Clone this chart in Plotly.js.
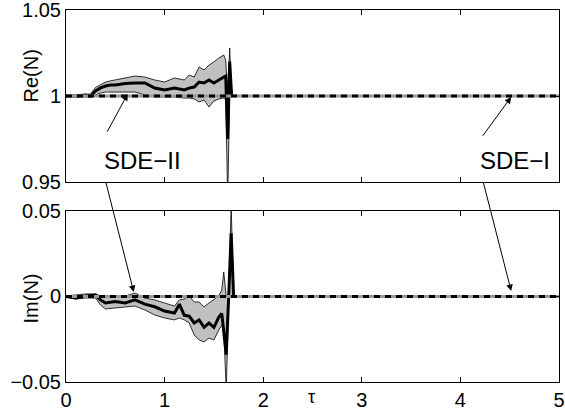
<!DOCTYPE html>
<html>
<head>
<meta charset="utf-8">
<script src="https://cdn.plot.ly/plotly-3.0.1.min.js"></script>
<style>html,body{margin:0;padding:0;background:#fff;}#chart{width:565px;height:414px;}</style>
</head>
<body>
<div id="chart"></div>
<script>
// ---- data ----
var tauRe   = [0,0.1,0.2,0.25,0.3,0.35,0.4,0.45,0.5,0.6,0.7,0.8,0.9,1.0,1.1,1.2,1.25,1.3,1.35,1.4,1.45,1.5,1.55,1.6,1.62,1.64,1.66,1.68];
var reMean  = [1.0,1.0,1.0006,0.9998,1.003,1.0047,1.0058,1.0064,1.0064,1.0073,1.0076,1.0076,1.0046,1.0035,1.0046,1.0035,1.0046,1.0052,1.0081,1.0076,1.0093,1.0076,1.0093,1.011,1.0116,0.975,1.02,1.0];
var reUpper = [1.0,1.0006,1.0012,1.0012,1.005,1.0068,1.0081,1.0088,1.0093,1.0105,1.0116,1.011,1.0093,1.0081,1.0105,1.0093,1.0122,1.011,1.0169,1.0151,1.018,1.0198,1.0221,1.0238,1.0209,1.0,1.0279,1.0];
var reLower = [1.0,0.9994,0.9994,0.9994,1.0006,1.0017,1.0023,1.0023,1.0023,1.0023,1.0023,1.0006,0.9994,0.9994,0.9994,0.9988,0.9988,0.9983,0.9965,0.9977,0.9936,0.9971,0.9983,0.9988,0.9977,0.94,1.0,1.0];

var tauIm   = [0,0.1,0.2,0.3,0.35,0.4,0.5,0.6,0.7,0.8,0.9,1.0,1.1,1.15,1.2,1.25,1.3,1.35,1.4,1.45,1.5,1.55,1.58,1.6,1.625,1.65,1.675,1.7];
var imMean  = [0,-0.0009,0.0003,0.0009,-0.002,-0.0038,-0.003,-0.0038,-0.002,-0.0045,-0.006,-0.0085,-0.0097,-0.0045,-0.011,-0.0115,-0.0155,-0.0137,-0.018,-0.0155,-0.018,-0.012,-0.0100,-0.02,-0.034,0.0,0.037,0];
var imUpper = [0.0003,0.0009,0.0015,0.0015,0.0003,-0.0003,-0.0003,0.0003,0.002,-0.0009,-0.002,-0.0038,-0.0056,-0.002,-0.0015,0.0003,-0.0032,-0.0032,-0.0061,-0.0038,-0.002,0.0003,0.0038,0.0143,0.0,0.0,0.0535,0];
var imLower = [-0.0003,-0.0015,-0.0009,-0.0009,-0.005,-0.0073,-0.0067,-0.0061,-0.0056,-0.0079,-0.0108,-0.0126,-0.0137,-0.0126,-0.0137,-0.0155,-0.0225,-0.0254,-0.0266,-0.0243,-0.0254,-0.0196,-0.0167,-0.0196,-0.0547,-0.002,0.0,0];

var tauI = [0,1,2,3,4,5];
var reI  = [1,1,1,1,1,1];
var imI  = [0,0,0,0,0,0];

var xTicks = [0,1,2,3,4,5];
var reTicks = [0.95,1,1.05];
var reTickText = ['0.95','1','1.05'];
var imTicks = [-0.05,0,0.05];
var imTickText = ['\u22120.05','0','0.05'];

// ---- traces ----
function panel(xa, ya, tau, lo, up, mean, refY) {
  return [
    {x: tauI, y: refY, xaxis: xa, yaxis: ya, mode: 'lines', line: {color: '#000', width: 1.2}, hoverinfo: 'skip'},
    {x: tau, y: lo, xaxis: xa, yaxis: ya, mode: 'lines', line: {color: '#000', width: 0.8}, hoverinfo: 'skip'},
    {x: tau, y: up, xaxis: xa, yaxis: ya, mode: 'lines', fill: 'tonexty', fillcolor: '#c0c0c0', line: {color: '#000', width: 0.8}, hoverinfo: 'skip'},
    {x: tau, y: mean, xaxis: xa, yaxis: ya, mode: 'lines', line: {color: '#000', width: 3}, name: 'SDE-II'},
    {x: tauI, y: refY, xaxis: xa, yaxis: ya, mode: 'lines', line: {color: '#9a9a9a', width: 3}, hoverinfo: 'skip'},
    {x: tauI, y: refY, xaxis: xa, yaxis: ya, mode: 'lines', line: {color: '#000', width: 3, dash: '6px,5px'}, name: 'SDE-I'}
  ];
}
var data = panel('x', 'y', tauRe, reLower, reUpper, reMean, reI)
  .concat(panel('x2', 'y2', tauIm, imLower, imUpper, imMean, imI));

var font = {family: 'Liberation Sans, Arial, sans-serif', size: 20, color: '#000'};
var axBase = {showline: true, linecolor: '#000', linewidth: 1, mirror: 'allticks', ticks: 'inside',
  ticklen: 5, tickcolor: '#000', showgrid: false, zeroline: false, tickfont: font, ticklabeloverflow: 'allow'};

var layout = {
  width: 565, height: 414,
  margin: {l: 66, r: 6, t: 10, b: 32},
  paper_bgcolor: '#fff', plot_bgcolor: '#fff',
  showlegend: false,
  font: font,
  xaxis: Object.assign({}, axBase, {domain: [0, 1], anchor: 'y', range: [0, 5], tickvals: xTicks, showticklabels: false}),
  yaxis: Object.assign({}, axBase, {domain: [0.5376, 1], anchor: 'x', range: [0.95, 1.05], tickvals: reTicks, ticktext: reTickText}),
  xaxis2: Object.assign({}, axBase, {domain: [0, 1], anchor: 'y2', range: [0, 5], tickvals: xTicks, ticktext: xTicks.map(String)}),
  yaxis2: Object.assign({}, axBase, {domain: [0, 0.4597], anchor: 'x2', range: [-0.05, 0.05], tickvals: imTicks, ticktext: imTickText}),
  annotations: [
    {xref: 'paper', yref: 'paper', x: -0.07, y: 0.8226, xanchor: 'center', yanchor: 'middle', text: 'Re(N)', textangle: -90, showarrow: false, font: font},
    {xref: 'paper', yref: 'paper', x: -0.07, y: 0.2258, xanchor: 'center', yanchor: 'middle', text: 'Im(N)', textangle: -90, showarrow: false, font: font},
    {xref: 'paper', yref: 'paper', x: 0.497, y: -0.04, xanchor: 'center', yanchor: 'middle', text: '\u03c4', showarrow: false, font: {family: font.family, size: 18, color: '#000'}},
    {xref: 'x', yref: 'y', x: 0.78, y: 0.9625, text: 'SDE\u2212II', showarrow: false, font: {family: font.family, size: 24, color: '#000'}},
    {xref: 'x', yref: 'y', x: 4.55, y: 0.9625, text: 'SDE\u2212I', showarrow: false, font: {family: font.family, size: 24, color: '#000'}},
    {xref: 'x', yref: 'y', x: 0.626, y: 1.0012, text: ' ', showarrow: true, ax: -25, ay: 46, arrowhead: 2, arrowsize: 1.3, arrowwidth: 1, arrowcolor: '#000', standoff: 0},
    {xref: 'x2', yref: 'y2', x: 0.687, y: 0.0026, text: ' ', showarrow: true, ax: -31, ay: -122, arrowhead: 2, arrowsize: 1.3, arrowwidth: 1, arrowcolor: '#000', standoff: 0},
    {xref: 'x', yref: 'y', x: 4.515, y: 0.9994, text: ' ', showarrow: true, ax: -33, ay: 45, arrowhead: 2, arrowsize: 1.3, arrowwidth: 1, arrowcolor: '#000', standoff: 0},
    {xref: 'x2', yref: 'y2', x: 4.515, y: 0.0032, text: ' ', showarrow: true, ax: -31, ay: -121, arrowhead: 2, arrowsize: 1.3, arrowwidth: 1, arrowcolor: '#000', standoff: 0}
  ]
};

Plotly.newPlot('chart', data, layout, {staticPlot: true, displayModeBar: false});
</script>
</body>
</html>
